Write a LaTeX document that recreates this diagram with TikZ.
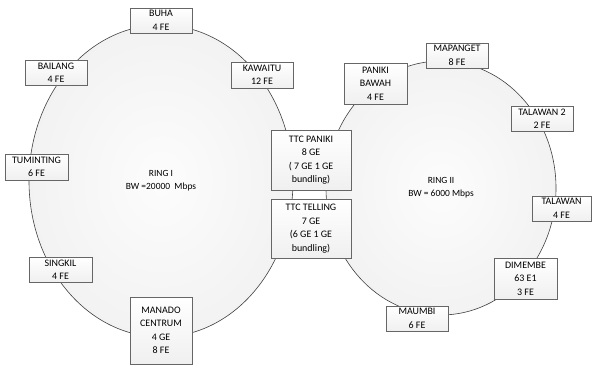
\documentclass[tikz,border=0pt]{standalone}
\usepackage{fontspec}
\setmainfont{Carlito}
\usetikzlibrary{shapes.geometric}

\begin{document}
\begin{tikzpicture}[
  x=1bp, y=-1bp,
  font=\fontsize{10}{13.5}\selectfont,
  ring/.style={ellipse, draw=black!75, line width=0.6pt, inner sep=0pt,
    shade, inner color=black!1, outer color=black!5, align=center,
    font=\fontsize{9.5}{13}\selectfont},
  site/.style={rectangle, draw=black!60, line width=0.6pt, inner sep=0pt,
    top color=white, bottom color=black!6, align=center, minimum width=62bp}
]
\useasboundingbox (0,0) rectangle (592,367);

% ================= Rings =================
\node[ring, minimum width=264bp, minimum height=312bp] (ringI) at (161,181)
  {RING I\\BW =20000~ Mbps};
\node[ring, minimum width=230bp, minimum height=254bp] (ringII) at (441,188)
  {RING II\\BW = 6000 Mbps};

% ================= Ring I sites =================
\node[site, minimum height=25bp] (buha) at (161,20.5) {BUHA\\4 FE};
\node[site, minimum height=25bp] (bailang) at (56,72.5) {BAILANG\\4 FE};
\node[site, minimum height=26bp] (kawaitu) at (262,75) {KAWAITU\\12 FE};
\node[site, minimum height=26bp, minimum width=63bp] (tuminting) at (36.5,167) {TUMINTING\\6 FE};
\node[site, minimum height=25bp, minimum width=63bp] (singkil) at (60.5,269.5) {SINGKIL\\4 FE};
\node[site, minimum height=67bp] (manado) at (161,330.5) {MANADO\\CENTRUM\\4 GE\\8 FE};

% ================= Shared sites =================
\node[site, minimum height=60bp, minimum width=80bp] (ttcpaniki) at (311,160)
  {TTC PANIKI\\8 GE\\( 7 GE 1 GE\\bundling)};
\node[site, minimum height=59bp, minimum width=80bp] (ttctelling) at (311,228.5)
  {TTC TELLING\\7 GE\\(6 GE 1 GE\\bundling)};

% ================= Ring II sites =================
\node[site, minimum height=41bp, minimum width=63bp] (panikibawah) at (375.5,83.5) {PANIKI\\BAWAH\\4 FE};
\node[site, minimum height=25bp] (mapanget) at (457,55.5) {MAPANGET\\8 FE};
\node[site, minimum height=25bp] (talawanII) at (542,118.5) {TALAWAN 2\\2 FE};
\node[site, minimum height=25bp, minimum width=59bp] (talawan) at (561.5,208.5) {TALAWAN\\4 FE};
\node[site, minimum height=41bp, minimum width=63bp] (dimembe) at (525.5,278.5) {DIMEMBE\\63 E1\\3 FE};
\node[site, minimum height=25bp] (maumbi) at (417,318.5) {MAUMBI\\6 FE};

\end{tikzpicture}
\end{document}
